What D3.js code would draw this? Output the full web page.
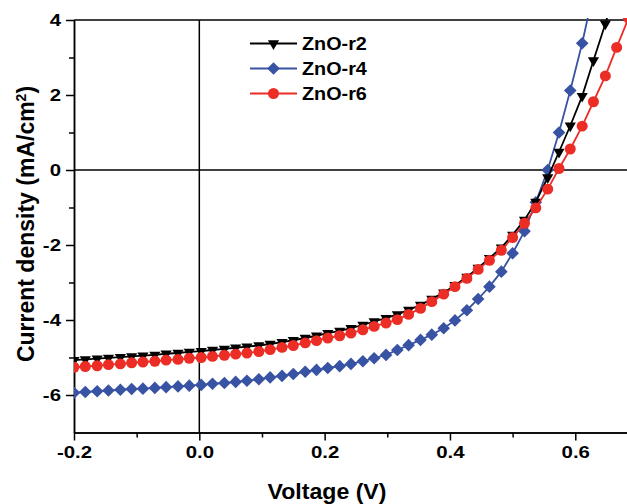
<!DOCTYPE html>
<html><head><meta charset="utf-8">
<script src="https://cdn.jsdelivr.net/npm/d3@7"></script>
<style>
body{margin:0;background:#fff;}
svg{display:block;}
text{font-family:"Liberation Sans",Arial,sans-serif;font-weight:bold;fill:#000;}
</style>
</head><body>
<svg id="chart" width="627" height="504"></svg>
<script>
const voltage = [
-0.200,-0.182,-0.163,-0.145,-0.126,-0.108,-0.090,-0.071,-0.053,-0.034,
-0.016,0.003,0.021,0.040,0.058,0.076,0.095,0.113,0.132,0.150,
0.169,0.187,0.205,0.224,0.242,0.261,0.279,0.298,0.316,0.334,
0.353,0.371,0.390,0.408,0.427,0.445,0.463,0.482,0.500,0.519,
0.537,0.556,0.574,0.592,0.611,0.629,0.648,0.666,0.685];
const jR2 = [
-5.07,-5.05,-5.03,-5.01,-4.99,-4.97,-4.95,-4.93,-4.90,-4.88,
-4.85,-4.83,-4.80,-4.77,-4.74,-4.71,-4.68,-4.64,-4.59,-4.54,
-4.48,-4.42,-4.35,-4.29,-4.22,-4.13,-4.04,-3.95,-3.85,-3.73,
-3.60,-3.44,-3.27,-3.07,-2.85,-2.61,-2.35,-2.07,-1.73,-1.33,
-0.85,-0.20,0.48,1.18,1.97,2.92,3.90,4.95,6.00];
const jR4 = [
-5.94,-5.92,-5.90,-5.88,-5.86,-5.84,-5.83,-5.81,-5.79,-5.77,
-5.75,-5.73,-5.70,-5.68,-5.65,-5.62,-5.58,-5.53,-5.49,-5.44,
-5.38,-5.33,-5.28,-5.23,-5.17,-5.10,-5.02,-4.93,-4.80,-4.67,
-4.53,-4.39,-4.22,-4.01,-3.74,-3.44,-3.11,-2.71,-2.22,-1.63,
-0.86,0.00,1.00,2.12,3.38,4.75,6.20,7.70,9.30];
const jR6 = [
-5.26,-5.24,-5.22,-5.19,-5.17,-5.14,-5.12,-5.10,-5.07,-5.05,
-5.02,-5.00,-4.97,-4.94,-4.91,-4.88,-4.84,-4.79,-4.73,-4.68,
-4.61,-4.55,-4.48,-4.42,-4.35,-4.26,-4.17,-4.08,-3.99,-3.85,
-3.69,-3.51,-3.31,-3.11,-2.89,-2.65,-2.41,-2.14,-1.80,-1.42,
-1.01,-0.51,0.04,0.56,1.17,1.82,2.51,3.27,4.05];

const seriesNames = ["ZnO-r2","ZnO-r4","ZnO-r6"];
const seriesColors = ["#000000","#3953a4","#ec2d26"];
const seriesMarkers = ["triangleDown","diamond","circle"];

const xTickValues = [-0.2,0,0.2,0.4,0.6];
const xTickLabels = ["-0.2","0.0","0.2","0.4","0.6"];
const xMinorTicks = [-0.1,0.1,0.3,0.5];
const yTickValues = [-6,-4,-2,0,2,4];
const yTickLabels = ["-6","-4","-2","0","2","4"];
const yMinorTicks = [-5,-3,-1,1,3];
const xTitle = "Voltage (V)";

const svg = d3.select("#chart");
const L = 74, T = 20, B = 432.5;
const x = d3.scaleLinear().domain([-0.2, 0.7]).range([L, L + 0.9*626.6]);
const y = d3.scaleLinear().domain([-7, 4]).range([B, T]);
const R = x.range()[1];

svg.append("defs").append("clipPath").attr("id","clip")
  .append("rect").attr("x",L).attr("y",T-2).attr("width",R-L).attr("height",B-T+2);

// zero lines
svg.append("line").attr("x1",x(0)).attr("x2",x(0)).attr("y1",T).attr("y2",B)
  .attr("stroke","#000").attr("stroke-width",1.5);
svg.append("line").attr("x1",L).attr("x2",R).attr("y1",y(0)).attr("y2",y(0))
  .attr("stroke","#000").attr("stroke-width",1.5);
// top border
svg.append("line").attr("x1",L).attr("x2",R).attr("y1",T).attr("y2",T)
  .attr("stroke","#000").attr("stroke-width",1.5);

function styleAxis(g){
  g.select(".domain").attr("stroke","#000").attr("stroke-width",1.5);
  g.selectAll(".tick line").attr("stroke","#000").attr("stroke-width",1.5);
  g.selectAll(".tick text").style("font-size","17px").style("font-family",'"Liberation Sans",Arial,sans-serif').style("font-weight","bold").attr("fill","#000");
}

// x axis
const gx = svg.append("g").attr("transform",`translate(0,${B})`)
  .call(d3.axisBottom(x).tickValues(xTickValues).tickFormat((d,i)=>xTickLabels[i]).tickSize(8).tickPadding(5).tickSizeOuter(0));
styleAxis(gx);
gx.selectAll(".tick text").attr("transform","scale(1.2,1)");
const gxm = svg.append("g").attr("transform",`translate(0,${B})`)
  .call(d3.axisBottom(x).tickValues(xMinorTicks).tickFormat("").tickSize(5).tickSizeOuter(0));
styleAxis(gxm);

// y axis
const gy = svg.append("g").attr("transform",`translate(${L},0)`)
  .call(d3.axisLeft(y).tickValues(yTickValues).tickFormat((d,i)=>yTickLabels[i]).tickSize(8).tickPadding(5).tickSizeOuter(0));
styleAxis(gy);
gy.selectAll(".tick text").attr("x",0).attr("transform","translate(-13,0) scale(1.2,1)");
const gym = svg.append("g").attr("transform",`translate(${L},0)`)
  .call(d3.axisLeft(y).tickValues(yMinorTicks).tickFormat("").tickSize(5).tickSizeOuter(0));
styleAxis(gym);

// titles
svg.append("text").attr("transform","translate(327,499) scale(1.05,1)").attr("text-anchor","middle")
  .style("font-size","22px").text(xTitle);
const yt = svg.append("text").attr("transform",`translate(34,224) rotate(-90)`)
  .attr("text-anchor","middle").style("font-size","23px");
yt.append("tspan").text("Current density (mA/cm");
yt.append("tspan").attr("dy",-8).style("font-size","14px").text("2");
yt.append("tspan").attr("dy",8).text(")");

// markers
function markerPath(type){
  if(type==="triangleDown") return d3.symbol().type(d3.symbolTriangle).size(54)();
  if(type==="diamond") return d3.symbol().type(d3.symbolSquare).size(80)();
  return d3.symbol().type(d3.symbolCircle).size(95)();
}
function markerRot(type){
  if(type==="triangleDown") return 180;
  if(type==="diamond") return 45;
  return 0;
}

const seriesData = [jR2, jR4, jR6];
const plot = svg.append("g").attr("clip-path","url(#clip)");
const line = d3.line().x(d=>x(d[0])).y(d=>y(d[1]));
const drawOrder = [1,0,2];
drawOrder.forEach(si=>{
  const pts = voltage.map((v,i)=>[v, seriesData[si][i]]);
  const g = plot.append("g");
  g.append("path").attr("d",line(pts)).attr("fill","none")
    .attr("stroke",seriesColors[si]).attr("stroke-width",1.8);
  g.selectAll("path.m").data(pts).join("path").attr("class","m")
    .attr("d",markerPath(seriesMarkers[si]))
    .attr("transform",d=>`translate(${x(d[0])},${y(d[1])}) rotate(${markerRot(seriesMarkers[si])})`)
    .attr("fill",seriesColors[si]);
});

// legend
const legend = svg.append("g");
seriesNames.forEach((name,i)=>{
  const cy = 43.5 + i*25;
  legend.append("line").attr("x1",250).attr("x2",297).attr("y1",cy).attr("y2",cy)
    .attr("stroke",seriesColors[i]).attr("stroke-width",1.8);
  legend.append("path").attr("d",markerPath(seriesMarkers[i]))
    .attr("transform",`translate(273.5,${cy}) rotate(${markerRot(seriesMarkers[i])})`)
    .attr("fill",seriesColors[i]);
  legend.append("text").attr("transform",`translate(302,${cy+6.5}) scale(1.1,1)`).style("font-size","18px").text(name);
});
</script>
</body></html>
